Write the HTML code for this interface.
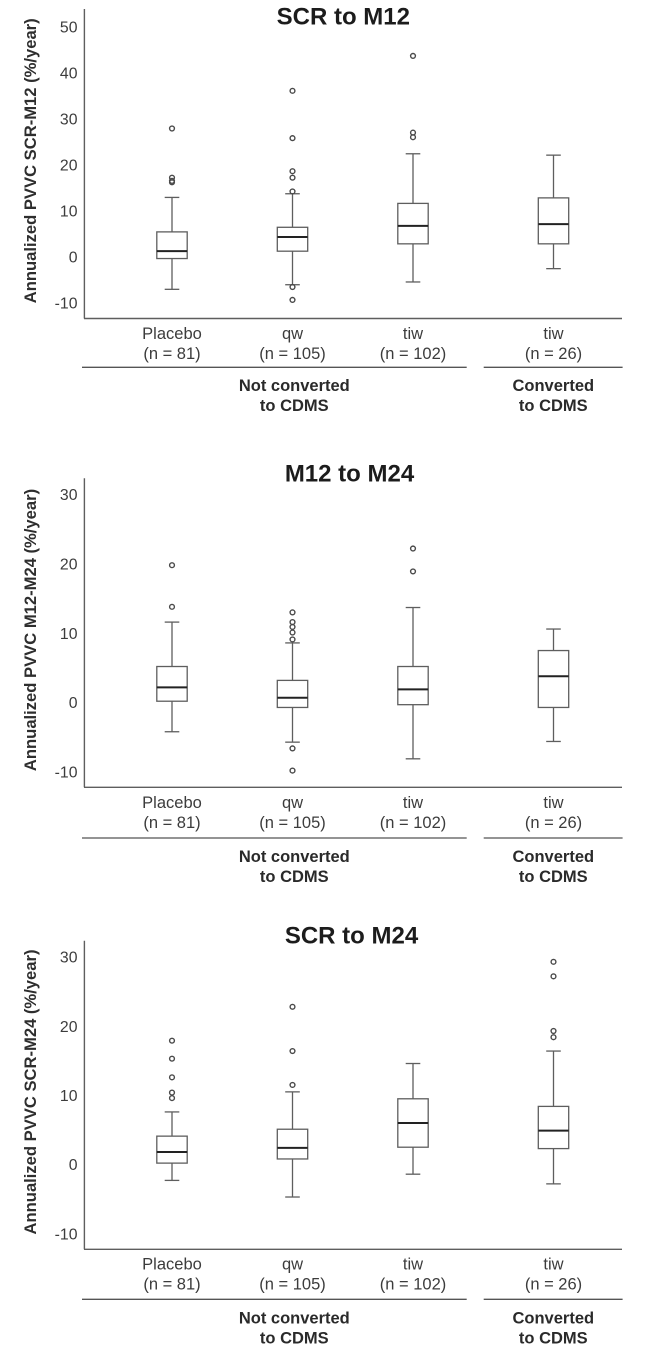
<!DOCTYPE html>
<html lang="en">
<head>
<meta charset="utf-8">
<title>Annualized PVVC box plots</title>
<style>
html,body{margin:0;padding:0;background:#fff;}
body{width:645px;height:1351px;overflow:hidden;}
svg{display:block;filter:blur(0.35px);}
text{font-family:"Liberation Sans",Arial,sans-serif;}
</style>
</head>
<body>
<svg id="figure" xmlns="http://www.w3.org/2000/svg" width="645" height="1351" viewBox="0 0 645 1351"></svg>
<script>
const categories = ['Placebo', 'qw', 'tiw', 'tiw'];
const sampleSizes = ['(n = 81)', '(n = 105)', '(n = 102)', '(n = 26)'];

const ticksA = [-10, 0, 10, 20, 30, 40, 50];
const lowA = [-7.1, -6.1, -5.5, -2.6];
const q1A = [-0.4, 1.2, 2.8, 2.8];
const medianA = [1.2, 4.3, 6.7, 7.1];
const q3A = [5.4, 6.4, 11.6, 12.8];
const highA = [12.9, 13.7, 22.4, 22.1];
const outliersA = [
  [27.9, 17.2, 16.5, 16.2],
  [36.1, 25.8, 18.6, 17.2, 14.2, -6.6, -9.4],
  [43.7, 27.0, 26.0],
  []
];

const ticksB = [-10, 0, 10, 20, 30];
const lowB = [-4.2, -5.7, -8.1, -5.6];
const q1B = [0.2, -0.7, -0.3, -0.7];
const medianB = [2.2, 0.7, 1.9, 3.8];
const q3B = [5.2, 3.2, 5.2, 7.5];
const highB = [11.6, 8.6, 13.7, 10.6];
const outliersB = [
  [19.8, 13.8],
  [13.0, 11.6, 10.9, 10.1, 9.1, -6.6, -9.8],
  [22.2, 18.9],
  []
];

const ticksC = [-10, 0, 10, 20, 30];
const lowC = [-2.3, -4.7, -1.4, -2.8];
const q1C = [0.2, 0.8, 2.5, 2.3];
const medianC = [1.8, 2.4, 6.0, 4.9];
const q3C = [4.1, 5.1, 9.5, 8.4];
const highC = [7.6, 10.5, 14.6, 16.4];
const outliersC = [
  [17.9, 15.3, 12.6, 10.4, 9.6],
  [22.8, 16.4, 11.5],
  [],
  [29.3, 27.2, 19.3, 18.4]
];

const svg = document.getElementById('figure');
const NS = 'http://www.w3.org/2000/svg';
const LINE = '#5e5e5e';
const DARK = '#222';

function shape(parent, tag, attrs, content) {
  const el = document.createElementNS(NS, tag);
  for (const k in attrs) el.setAttribute(k, attrs[k]);
  if (content !== undefined) el.textContent = content;
  parent.appendChild(el);
  return el;
}

function xScale(i) {
  return 172 + 120.5 * i + (i === 3 ? 20 : 0);
}

function makeYScale(zeroY, pxPerUnit) {
  return function (v) { return zeroY - v * pxPerUnit; };
}

function drawPanel(p) {
  const y = makeYScale(p.zeroY, p.unit);
  const g = shape(svg, 'g', {});
  
  

  const title = shape(g, 'text', {x: p.titleX, y: p.titleY, 'text-anchor': 'middle', 'font-size': 24, 'font-weight': 'bold', fill: '#1c1c1c'}, p.title);
  
  

  const yAxis = shape(g, 'line', {x1: 84.4, x2: 84.4, y1: p.axisTop, y2: p.axisBottom, stroke: LINE, 'stroke-width': 1.4});
  
  

  const xAxis = shape(g, 'line', {x1: 84, x2: 622, y1: p.axisBottom, y2: p.axisBottom, stroke: LINE, 'stroke-width': 1.4});
  
  

  const yTitle = shape(g, 'text', {transform: 'translate(36,' + p.yTitleY + ') rotate(-90)', 'text-anchor': 'middle', 'font-size': 16.6, 'font-weight': 'bold', fill: '#2e2e2e'}, p.yTitle);
  
  

  p.ticks.forEach(function (t) {
    const label = shape(g, 'text', {x: 77.5, y: y(t) + 5.6, 'text-anchor': 'end', 'font-size': 15.8, fill: '#3c3c3c'}, String(t));
    
    
  });

  categories.forEach(function (cat, i) {
    const cx = xScale(i);
    const box = shape(g, 'g', {});
    
    

    const whisker = shape(box, 'line', {x1: cx, x2: cx, y1: y(p.high[i]), y2: y(p.low[i]), stroke: LINE, 'stroke-width': 1.3});
    
    

    const capTop = shape(box, 'line', {x1: cx - 7.3, x2: cx + 7.3, y1: y(p.high[i]), y2: y(p.high[i]), stroke: LINE, 'stroke-width': 1.3});
    
    

    const capLow = shape(box, 'line', {x1: cx - 7.3, x2: cx + 7.3, y1: y(p.low[i]), y2: y(p.low[i]), stroke: LINE, 'stroke-width': 1.3});
    
    

    const rect = shape(box, 'rect', {x: cx - 15.2, width: 30.4, y: y(p.q3[i]), height: y(p.q1[i]) - y(p.q3[i]), fill: '#fff', stroke: LINE, 'stroke-width': 1.3});
    
    

    const med = shape(box, 'line', {x1: cx - 15.2, x2: cx + 15.2, y1: y(p.median[i]), y2: y(p.median[i]), stroke: DARK, 'stroke-width': 2});
    
    

    p.outliers[i].forEach(function (v) {
      const dot = shape(box, 'circle', {cx: cx, cy: y(v), r: 2.4, fill: 'none', stroke: '#4a4a4a', 'stroke-width': 1.4});
      
      
    });

    const catLabel = shape(g, 'text', {x: cx, y: p.catY, 'text-anchor': 'middle', 'font-size': 16.5, fill: '#3c3c3c'}, cat);
    
    

    const nLabel = shape(g, 'text', {x: cx, y: p.catY + 20, 'text-anchor': 'middle', 'font-size': 16.5, fill: '#3c3c3c'}, sampleSizes[i]);
    
    
  });

  const sepA = shape(g, 'line', {x1: 82, x2: 466.7, y1: p.sepY, y2: p.sepY, stroke: '#555', 'stroke-width': 1.3});
  
  

  const sepB = shape(g, 'line', {x1: 483.7, x2: 622.6, y1: p.sepY, y2: p.sepY, stroke: '#555', 'stroke-width': 1.3});
  
  

  const nc1 = shape(g, 'text', {x: 294.3, y: p.groupY, 'text-anchor': 'middle', 'font-size': 16.5, 'font-weight': 'bold', fill: '#2a2a2a'}, 'Not converted');
  
  

  const nc2 = shape(g, 'text', {x: 294.3, y: p.groupY + 20, 'text-anchor': 'middle', 'font-size': 16.5, 'font-weight': 'bold', fill: '#2a2a2a'}, 'to CDMS');
  
  

  const c1 = shape(g, 'text', {x: 553.3, y: p.groupY, 'text-anchor': 'middle', 'font-size': 16.5, 'font-weight': 'bold', fill: '#2a2a2a'}, 'Converted');
  
  

  const c2 = shape(g, 'text', {x: 553.3, y: p.groupY + 20, 'text-anchor': 'middle', 'font-size': 16.5, 'font-weight': 'bold', fill: '#2a2a2a'}, 'to CDMS');
  
  
}

drawPanel({
  name: 'scr-to-m12', title: 'SCR to M12', titleX: 343.3, titleY: 24.4,
  yTitle: 'Annualized PVVC SCR-M12 (%/year)', yTitleY: 160.8,
  zeroY: 256.7, unit: 4.595, axisTop: 9, axisBottom: 318.5,
  catY: 338.8, sepY: 367.3, groupY: 390.8,
  ticks: ticksA, low: lowA, q1: q1A, median: medianA, q3: q3A, high: highA, outliers: outliersA
});

drawPanel({
  name: 'm12-to-m24', title: 'M12 to M24', titleX: 349.5, titleY: 481.7,
  yTitle: 'Annualized PVVC M12-M24 (%/year)', yTitleY: 630,
  zeroY: 702.6, unit: 6.94, axisTop: 478.3, axisBottom: 787.3,
  catY: 807.8, sepY: 838, groupY: 862.1,
  ticks: ticksB, low: lowB, q1: q1B, median: medianB, q3: q3B, high: highB, outliers: outliersB
});

drawPanel({
  name: 'scr-to-m24', title: 'SCR to M24', titleX: 351.5, titleY: 943.4,
  yTitle: 'Annualized PVVC SCR-M24 (%/year)', yTitleY: 1092,
  zeroY: 1164.5, unit: 6.917, axisTop: 940.7, axisBottom: 1249.3,
  catY: 1269.5, sepY: 1299.3, groupY: 1323.5,
  ticks: ticksC, low: lowC, q1: q1C, median: medianC, q3: q3C, high: highC, outliers: outliersC
});
</script>
</body>
</html>
